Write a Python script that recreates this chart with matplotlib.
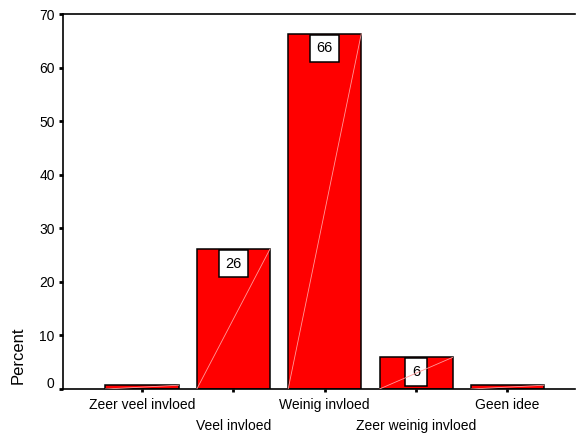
import matplotlib
matplotlib.use("Agg")
import matplotlib.pyplot as plt
import matplotlib.transforms as mtransforms

categories = ["Zeer veel invloed", "Veel invloed", "Weinig invloed", "Zeer weinig invloed", "Geen idee"]
percent = [0.7, 26.1, 66.3, 5.9, 0.7]
bar_labels = ["", "26", "66", "6", ""]
yticks = [0, 10, 20, 30, 40, 50, 60, 70]

plt.rcParams['font.family'] = ['Liberation Sans', 'DejaVu Sans']

fig = plt.figure(figsize=(5.77, 4.34), dpi=100)
ax = fig.add_axes([63/577, 1-389/434, (575-63)/577, (389-14)/434])

x = list(range(len(categories)))
width = 0.8
bars = ax.bar(x, percent, width=width, color='#ff0000', edgecolor='black', linewidth=1.1, zorder=2)

for xi, v, lab in zip(x, percent, bar_labels):
    if lab:
        ax.annotate(lab, xy=(xi, v), xytext=(0, -5.5), textcoords='offset points',
                    ha='center', va='top', fontsize=10.5, zorder=4,
                    bbox=dict(boxstyle='square,pad=0.45', fc='white', ec='black', lw=1.1))
    ax.plot([xi - width/2, xi + width/2], [0, v], color='#ff9a9a', lw=0.6, zorder=5)

ax.set_xlim(-0.865, 4.74)
ax.set_ylim(0, 70)
ax.set_yticks(yticks)
ax.set_yticklabels([str(t) for t in yticks], fontsize=10)
ax.set_xticks(x)
ax.set_xticklabels([])
for xi, c in zip(x, categories):
    off = -11.5 if xi % 2 == 0 else -26.5
    ax.annotate(c, xy=(xi, 0), xytext=(0, off), textcoords='offset points',
                ha='center', va='center', fontsize=10, annotation_clip=False)

ax.tick_params(axis='y', direction='out', length=3, width=2, pad=3)
ax.tick_params(axis='x', direction='out', length=2, width=2)
for s in ['top', 'left', 'bottom']:
    ax.spines[s].set_linewidth(1.2)
ax.spines['right'].set_visible(False)

# the zero label sits slightly above its tick in the reference
zero_lab = ax.get_yticklabels()[0]
zero_lab.set_transform(zero_lab.get_transform() + mtransforms.ScaledTranslation(0, 7/100, fig.dpi_scale_trans))

fig.text(18/577, 1-355/434, 'Percent', rotation=90, ha='center', va='center', fontsize=12)

fig.savefig('out.png', dpi=100)
